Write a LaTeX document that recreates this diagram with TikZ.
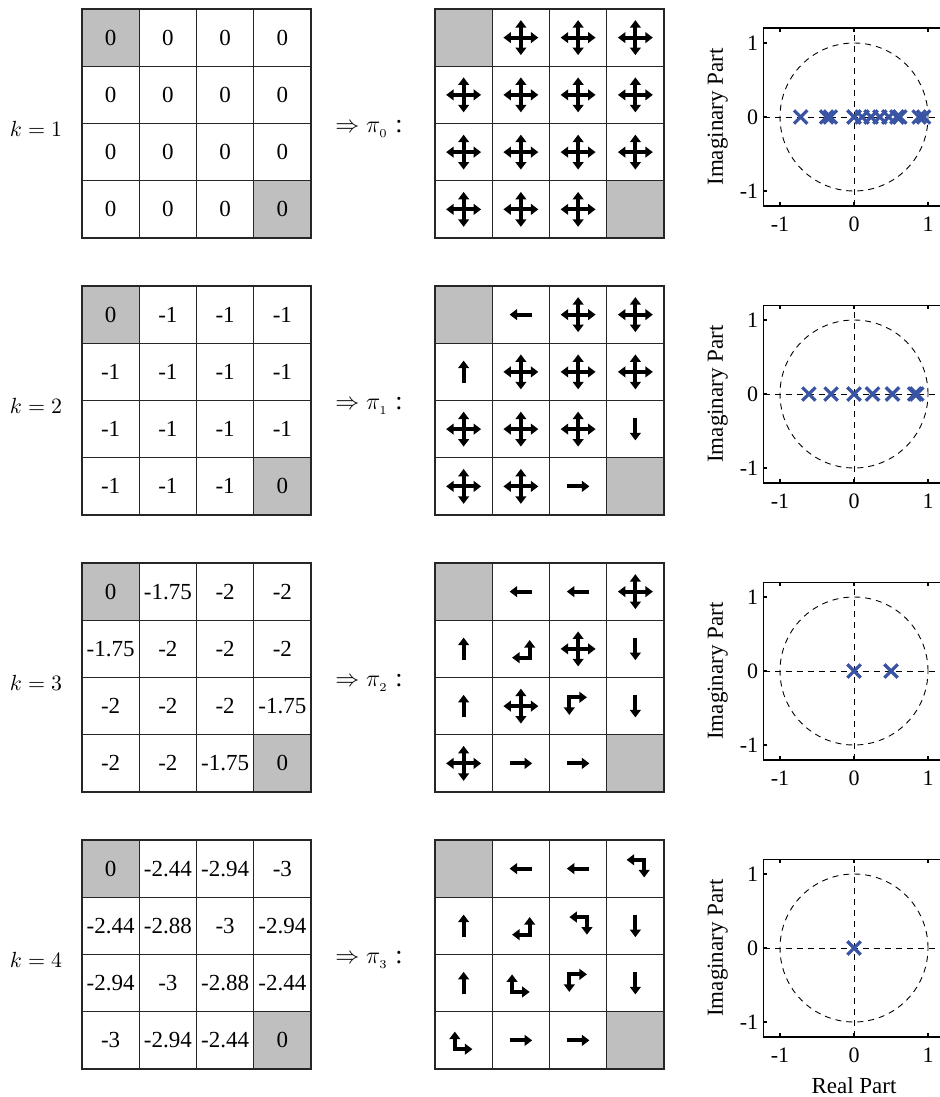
\documentclass[tikz,border=0pt]{standalone}
\usepackage{fontspec}
\setmainfont{Liberation Serif}
\usetikzlibrary{arrows.meta}
\definecolor{cellgray}{RGB}{191,191,191}
\definecolor{polecolor}{RGB}{58,84,164}
\tikzset{
  cellnum/.style={font=\fontsize{11.5}{13}\selectfont, inner sep=0pt},
  rowlab/.style={font=\fontsize{11}{13}\selectfont, inner sep=0pt},
  pilab/.style={font=\fontsize{13}{15}\selectfont, inner sep=0pt},
  gridline/.style={draw=black!85, line width=0.6pt},
  pol/.style={line width=1.9pt, -{Triangle[length=3.8pt,width=5.4pt]}},
  pol2/.style={line width=1.9pt, {Triangle[length=3.8pt,width=5.4pt]}-{Triangle[length=3.8pt,width=5.4pt]}},
  unitdash/.style={dash pattern=on 3pt off 2.5pt, line width=0.45pt},
  axisline/.style={line width=0.7pt},
  pole/.style={draw=polecolor, line width=1.6pt},
  ticklab/.style={font=\fontsize{11}{13}\selectfont, inner sep=0pt},
  axlab/.style={font=\fontsize{11.5}{13}\selectfont, inner sep=0pt}
}
% 4x4 cells, one unit per cell
\newcommand{\cells}{%
  \fill[cellgray] (0,0) rectangle (1,1) (3,3) rectangle (4,4);
  \draw[gridline] (0,0) rectangle (4,4) (1,0) -- (1,4) (2,0) -- (2,4) (3,0) -- (3,4)
    (0,1) -- (4,1) (0,2) -- (4,2) (0,3) -- (4,3);}
% one row of values: name, row, four entries
\newcommand{\valrow}[6]{%
  \node[cellnum] (#1a) at (0.5,#2-.5) {#3};
  \node[cellnum] (#1b) at (1.5,#2-.5) {#4};
  \node[cellnum] (#1c) at (2.5,#2-.5) {#5};
  \node[cellnum] (#1d) at (3.5,#2-.5) {#6};}
% policy glyphs: column, row (, dx, dy)
\newcommand{\pall}[2]{%
  \draw[pol2] ([xshift=-8.75pt]#1-.5,#2-.5) -- ([xshift=8.75pt]#1-.5,#2-.5);
  \draw[pol2] ([yshift=-8.75pt]#1-.5,#2-.5) -- ([yshift=8.75pt]#1-.5,#2-.5);}
\newcommand{\pone}[4]{%
  \draw[pol] ([shift={({-5.65pt*#3},{-5.65pt*#4})}]#1-.5,#2-.5)
    -- ([shift={({5.65pt*#3},{5.65pt*#4})}]#1-.5,#2-.5);}
\newcommand{\pbent}[4]{%
  \draw[pol2] ([shift={({4.4pt*#3},{-4.4pt*#4})}]#1-.5,#2-.5)
    -- ([shift={({-4.4pt*#3},{-4.4pt*#4})}]#1-.5,#2-.5)
    -- ([shift={({-4.4pt*#3},{4.4pt*#4})}]#1-.5,#2-.5);}
% pole plot: name, poles on the real axis
\newcommand{\zplane}[2]{%
  \draw[unitdash] (0,0) circle (1);
  \draw[unitdash] (-1.22,0) -- (1.3,0) (0,-1.2) -- (0,1.2);
  \draw[axisline] (-1,-1.2) -- ++(0,.05) (0,-1.2) -- ++(0,.05) (1,-1.2) -- ++(0,.05)
    (-1,1.2) -- ++(0,-.05) (0,1.2) -- ++(0,-.05) (1,1.2) -- ++(0,-.05)
    (-1.22,-1) -- ++(.05,0) (-1.22,0) -- ++(.05,0) (-1.22,1) -- ++(.05,0);
  \draw[axisline] (1.3,-1.2) -- (-1.22,-1.2) -- (-1.22,1.2) -- (1.3,1.2);
  \foreach \p in {#2} {\draw[pole] (\p-.09,-.09) -- (\p+.09,.09) (\p-.09,.09) -- (\p+.09,-.09);}
  \node[ticklab,anchor=east] (#1ya) at (-1.29,1) {1};
  \node[ticklab,anchor=east] (#1yb) at (-1.29,0) {0};
  \node[ticklab,anchor=east] (#1yc) at (-1.29,-1) {-1};
  \node[ticklab,anchor=north] (#1xa) at (-1,-1.34) {-1};
  \node[ticklab,anchor=north] (#1xb) at (0,-1.34) {0};
  \node[ticklab,anchor=north] (#1xc) at (1,-1.34) {1};
  \node[axlab,rotate=90] (#1lab) at (-1.84,0) {Imaginary Part};}

\begin{document}
\begin{tikzpicture}[x=0.5pt,y=-0.5pt]
\useasboundingbox (0,0) rectangle (940,1097);
% k = 1
\begin{scope}
\node[rowlab] (k1) at (36,129) {$k=1$};
\node[pilab] (pi0) at (369,129) {$\Rightarrow \pi_{_0}$ :};
\begin{scope}[shift={(82,9)},x=28.625pt,y=-28.625pt]
\cells
\valrow{va1}{1}{0}{0}{0}{0}
\valrow{va2}{2}{0}{0}{0}{0}
\valrow{va3}{3}{0}{0}{0}{0}
\valrow{va4}{4}{0}{0}{0}{0}
\end{scope}
\begin{scope}[shift={(435,9)},x=28.625pt,y=-28.625pt]
\cells
\foreach \c/\r in {2/1,3/1,4/1,1/2,2/2,3/2,4/2,1/3,2/3,3/3,4/3,1/4,2/4,3/4} {\pall{\c}{\r}}
\end{scope}
\begin{scope}[shift={(854,117)},x=37pt,y=37pt]
\zplane{za}{-0.72,-0.37,-0.32,0,0.11,0.23,0.35,0.47,0.58,0.62,0.88,0.94}
\end{scope}
\end{scope}
% k = 2
\begin{scope}[shift={(0,277)}]
\node[rowlab] (k2) at (36,129) {$k=2$};
\node[pilab] (pi1) at (369,129) {$\Rightarrow \pi_{_1}$ :};
\begin{scope}[shift={(82,9)},x=28.625pt,y=-28.625pt]
\cells
\valrow{vb1}{1}{0}{-1}{-1}{-1}
\valrow{vb2}{2}{-1}{-1}{-1}{-1}
\valrow{vb3}{3}{-1}{-1}{-1}{-1}
\valrow{vb4}{4}{-1}{-1}{-1}{0}
\end{scope}
\begin{scope}[shift={(435,9)},x=28.625pt,y=-28.625pt]
\cells
\pone{2}{1}{-1}{0}
\pone{1}{2}{0}{1}
\pone{4}{3}{0}{-1}
\pone{3}{4}{1}{0}
\foreach \c/\r in {3/1,4/1,2/2,3/2,4/2,1/3,2/3,3/3,1/4,2/4} {\pall{\c}{\r}}
\end{scope}
\begin{scope}[shift={(854,117)},x=37pt,y=37pt]
\zplane{zb}{-0.61,-0.31,0,0.25,0.52,0.82,0.85}
\end{scope}
\end{scope}
% k = 3
\begin{scope}[shift={(0,554)}]
\node[rowlab] (k3) at (36,129) {$k=3$};
\node[pilab] (pi2) at (369,129) {$\Rightarrow \pi_{_2}$ :};
\begin{scope}[shift={(82,9)},x=28.625pt,y=-28.625pt]
\cells
\valrow{vc1}{1}{0}{-1.75}{-2}{-2}
\valrow{vc2}{2}{-1.75}{-2}{-2}{-2}
\valrow{vc3}{3}{-2}{-2}{-2}{-1.75}
\valrow{vc4}{4}{-2}{-2}{-1.75}{0}
\end{scope}
\begin{scope}[shift={(435,9)},x=28.625pt,y=-28.625pt]
\cells
\pone{2}{1}{-1}{0}
\pone{3}{1}{-1}{0}
\pone{1}{2}{0}{1}
\pone{4}{2}{0}{-1}
\pone{1}{3}{0}{1}
\pone{4}{3}{0}{-1}
\pone{2}{4}{1}{0}
\pone{3}{4}{1}{0}
\pbent{2}{2}{-1}{1}
\pbent{3}{3}{1}{-1}
\foreach \c/\r in {4/1,3/2,2/3,1/4} {\pall{\c}{\r}}
\end{scope}
\begin{scope}[shift={(854,117)},x=37pt,y=37pt]
\zplane{zc}{0,0.5}
\end{scope}
\end{scope}
% k = 4
\begin{scope}[shift={(0,831)}]
\node[rowlab] (k4) at (36,129) {$k=4$};
\node[pilab] (pi3) at (369,129) {$\Rightarrow \pi_{_3}$ :};
\begin{scope}[shift={(82,9)},x=28.625pt,y=-28.625pt]
\cells
\valrow{vd1}{1}{0}{-2.44}{-2.94}{-3}
\valrow{vd2}{2}{-2.44}{-2.88}{-3}{-2.94}
\valrow{vd3}{3}{-2.94}{-3}{-2.88}{-2.44}
\valrow{vd4}{4}{-3}{-2.94}{-2.44}{0}
\end{scope}
\begin{scope}[shift={(435,9)},x=28.625pt,y=-28.625pt]
\cells
\pone{2}{1}{-1}{0}
\pone{3}{1}{-1}{0}
\pone{1}{2}{0}{1}
\pone{4}{2}{0}{-1}
\pone{1}{3}{0}{1}
\pone{4}{3}{0}{-1}
\pone{2}{4}{1}{0}
\pone{3}{4}{1}{0}
\pbent{4}{1}{-1}{-1}
\pbent{2}{2}{-1}{1}
\pbent{3}{2}{-1}{-1}
\pbent{2}{3}{1}{1}
\pbent{3}{3}{1}{-1}
\pbent{1}{4}{1}{1}
\end{scope}
\begin{scope}[shift={(854,117)},x=37pt,y=37pt]
\zplane{zd}{0}
\node[axlab] (real) at (0,-1.86) {Real Part};
\end{scope}
\end{scope}
\end{tikzpicture}
\end{document}
